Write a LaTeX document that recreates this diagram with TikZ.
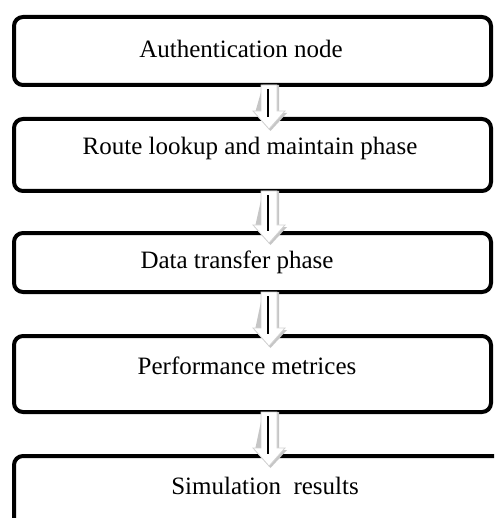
\documentclass[tikz,border=0pt]{standalone}
\usepackage{fontspec}
\setmainfont{Liberation Serif}
\usetikzlibrary{calc}

\tikzset{
  stagebox/.style={draw=black, line width=4pt, rounded corners=9pt, fill=white,
                   inner sep=0pt},
  stagetext/.style={anchor=base, inner sep=0pt, font=\fontsize{25pt}{30pt}\selectfont},
  arrowbody/.style={fill=white, draw=gray!35, line width=0.8pt},
  arrowshade/.style={fill=gray!45, draw=none},
  arrowcore/.style={draw=black, line width=1.2pt},
}

\begin{document}
\begin{tikzpicture}[x=1pt, y=-1pt]
  \useasboundingbox (0,0) rectangle (494,518);
  \clip (0,0) rectangle (494,518);

  % stage frames
  \node[stagebox, minimum width=477pt, minimum height=68pt] (b1) at (252.5,51) {};
  \node[stagebox, minimum width=477pt, minimum height=72pt] (b2) at (252.5,155) {};
  \node[stagebox, minimum width=477pt, minimum height=59pt] (b3) at (252.5,262.5) {};
  \node[stagebox, minimum width=477pt, minimum height=76pt] (b4) at (252.5,374) {};
  \node[stagebox, minimum width=491pt, minimum height=79pt] (b5) at (259.5,495.5) {};

  % stage labels
  \node[stagetext] (t1) at (241,58)  {Authentication node};
  \node[stagetext] (t2) at (250,155) {Route lookup and maintain phase};
  \node[stagetext] (t3) at (237,268) {Data transfer phase};
  \node[stagetext] (t4) at (247,374) {Performance metrices};
  \node[stagetext] (t5) at (265,494) {Simulation\ \ results};

  % hollow block arrows between consecutive stages
  \foreach \a/\b in {b1/b2, b2/b3, b3/b4, b4/b5}{
    % drop shadow
    \fill[arrowshade] let \p1=(\a.south), \p2=(\b.north),
        \n1={\x1+16.5pt}, \n2={\y1+2pt}, \n3={\y2-12pt}, \n4={\y2+6pt} in
      (\n1-6pt,\n2) -- (\n1+10pt,\n2) -- (\n1+10pt,\n4-2pt) -- (\n1+18pt,\n4-2pt)
      -- (\n1+1.5pt,\n3-2pt) -- (\n1-14pt,\n4-2pt) -- cycle;
    % arrow body
    \draw[arrowbody] let \p1=(\a.south), \p2=(\b.north),
        \n1={\x1+16.5pt}, \n2={\y1+2pt}, \n3={\y2-12pt}, \n4={\y2+6pt} in
      (\n1-8pt,\n2) -- (\n1+8pt,\n2) -- (\n1+8pt,\n4) -- (\n1+16pt,\n4)
      -- (\n1,\n3) -- (\n1-16pt,\n4) -- (\n1-8pt,\n4) -- cycle;
    % centre stroke
    \draw[arrowcore] let \p1=(\a.south), \p2=(\b.north),
        \n1={\x1+16.5pt}, \n2={\y1+2pt}, \n4={\y2+6pt} in
      (\n1-1pt,\n2-4pt) -- (\n1-1pt,\n4-6pt);
  }
\end{tikzpicture}
\end{document}
